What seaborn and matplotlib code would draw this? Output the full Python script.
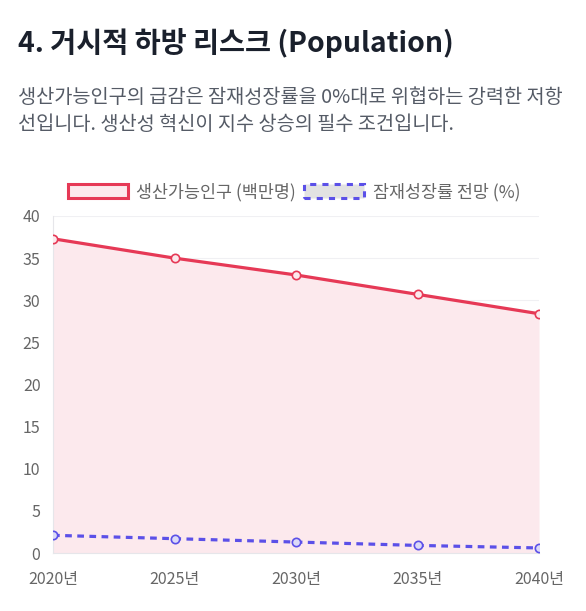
import matplotlib
matplotlib.use("Agg")
import matplotlib.pyplot as plt
import seaborn as sns
import pandas as pd
from matplotlib.patches import Patch

years = [2020, 2025, 2030, 2035, 2040]
year_labels = ["2020년", "2025년", "2030년", "2035년", "2040년"]
population = [37.3, 35.0, 33.0, 30.7, 28.4]
growth = [2.1, 1.7, 1.3, 0.9, 0.6]
y_ticks = [0, 5, 10, 15, 20, 25, 30, 35, 40]

pop_label = "생산가능인구 (백만명)"
growth_label = "잠재성장률 전망 (%)"
title = "4. 거시적 하방 리스크 (Population)"
subtitle = "생산가능인구의 급감은 잠재성장률을 0%대로 위협하는 강력한 저항\n선입니다. 생산성 혁신이 지수 상승의 필수 조건입니다."

sns.set_theme(style="white")
plt.rcParams['font.family'] = ['Noto Sans CJK KR', 'DejaVu Sans']

RED = "#e63956"
PINK = "#fce9ed"
BLUE = "#5b50e8"

df = pd.DataFrame({"year": years, "pop": population, "growth": growth})

fig = plt.figure(figsize=(5.86, 6.11), dpi=100)
ax = fig.add_axes([53/586, 1-553/611, (539-53)/586, (553-216)/611])

ax.fill_between(df["year"], df["pop"], 0, color=PINK, zorder=1, linewidth=0)
sns.lineplot(data=df, x="year", y="pop", ax=ax, color=RED, linewidth=2.3,
             marker="o", markersize=6, markerfacecolor=PINK, markeredgecolor=RED,
             markeredgewidth=1.2, zorder=3)
sns.lineplot(data=df, x="year", y="growth", ax=ax, color=BLUE, linewidth=2.3,
             marker="o", markersize=6, markerfacecolor="#dcdaf7", markeredgecolor=BLUE,
             markeredgewidth=1.2, zorder=3)
ax.lines[-1].set_dashes([2.1, 1.7])

ax.set_xlim(years[0], years[-1])
ax.set_ylim(0, 40)
ax.set_yticks(y_ticks)
ax.set_xticks(years)
ax.set_xticklabels(year_labels)
ax.set_xlabel("")
ax.set_ylabel("")
ax.tick_params(axis="both", labelsize=11.5, colors="#666666", length=0)
ax.tick_params(axis="x", pad=13)
ax.tick_params(axis="y", pad=9)
ax.grid(axis="y", color="#f0f0f3", linewidth=0.8)
ax.set_axisbelow(True)
for s in ["top", "right"]:
    ax.spines[s].set_visible(False)
for s in ["left", "bottom"]:
    ax.spines[s].set_color("#e6e6ea")
    ax.spines[s].set_linewidth(0.8)

handles = [
    Patch(facecolor=PINK, edgecolor=RED, linewidth=2.2, label=pop_label),
    Patch(facecolor="#e2e2e2", edgecolor=BLUE, linewidth=2.2, linestyle=(0, (2, 2)), label=growth_label),
]
fig.legend(handles=handles, loc="center", bbox_to_anchor=(294/586, 1-192/611), ncol=2,
           frameon=False, fontsize=12.5, labelcolor="#666666", handlelength=3.45,
           handleheight=0.85, columnspacing=0.45, handletextpad=0.5)

fig.text(18/586, 1-43/611, title, fontsize=20.4, fontweight="bold", color="#1a202c",
         va="center", ha="left")
fig.text(18/586, 1-111/611, subtitle, fontsize=14.2, color="#555b66", va="center",
         ha="left", linespacing=1.4)

fig.savefig("out.png", dpi=100, facecolor="white")
